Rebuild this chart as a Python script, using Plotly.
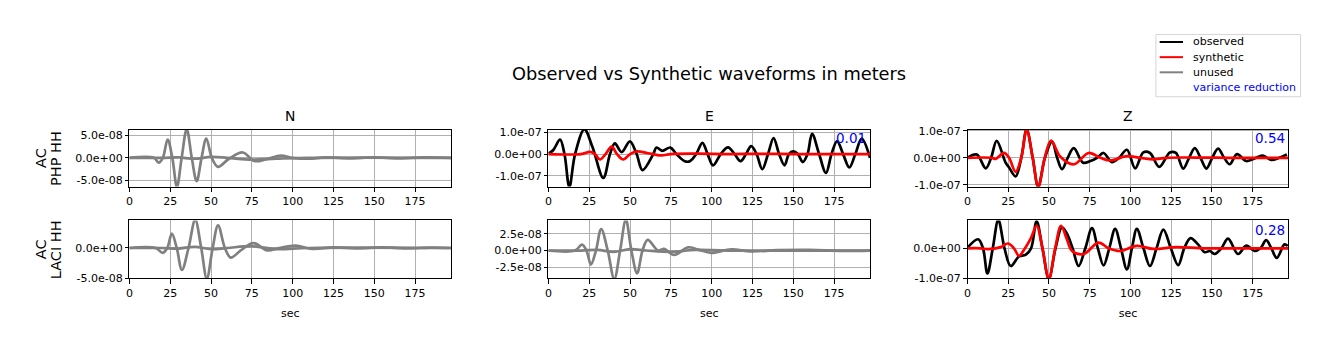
import plotly.graph_objects as go

W, H = 1329, 351

# ---------------- data (seconds, meters) ----------------
x_ticks = [0, 25, 50, 75, 100, 125, 150, 175]

# AC PHP HH - N (unused)
N1_t = [0, 15, 17.9, 20.5, 23.4, 26.3, 29.1, 32, 35.1, 38.2, 41.2, 44.2, 47.1, 50.5, 54.3, 61, 69.5, 76.4, 84, 92.7, 100, 110, 120, 135, 150, 165, 180, 197]
N1_obs = [0, 0, -1.07e-8, 0, 4.07e-8, 0, -6.5e-8, 0, 6.4e-8, 0, -5.2e-8, 0, 4.3e-8, 0, -2.0e-8, -0.2e-8, 1.2e-8, -0.7e-8, -0.3e-8, 0.5e-8, 0, -0.2e-8, 0.1e-8, -0.1e-8, 0.1e-8, -0.1e-8, 0.1e-8, 0]
N1_syn_t = [0, 20, 30, 40, 50, 60, 75, 90, 110, 197]
N1_syn = [0, 0, 0.1e-8, -0.2e-8, 0.2e-8, 0, -0.4e-8, -0.2e-8, 0, 0]

# AC PHP HH - E
E1_t = [0, 3, 7.1, 9.8, 12.8, 16.3, 22, 26.9, 33.6, 37.7, 40.7, 44.8, 49.9, 54, 57.6, 64.2, 66.2, 69.7, 74.7, 78.4, 83.5, 86.6, 90.5, 94.3, 97.5, 100.8, 105.5, 110, 114, 117.7, 121, 124.2, 127.5, 131, 134.5, 137.9, 141.3, 144.6, 147.3, 149.9, 152.8, 155.8, 158.7, 161.5, 165.8, 170, 173.4, 176.8, 180.5, 184.3, 188, 191.9, 197]
E1_obs = [0.02e-7, 0.19e-7, 0.67e-7, 0, -1.52e-7, 0, 1.14e-7, 0.34e-7, -1.1e-7, 0, 0.49e-7, 0.09e-7, 0.59e-7, 0, -0.74e-7, 0, 0.3e-7, 0.15e-7, 0.3e-7, 0, -0.33e-7, -0.33e-7, 0, 0.52e-7, 0, -0.52e-7, 0, 0.31e-7, 0, -0.33e-7, 0, 0.37e-7, 0, -0.7e-7, 0, 0.74e-7, 0, -0.52e-7, 0, 0.12e-7, 0, -0.37e-7, 0, 0.93e-7, 0, -0.87e-7, 0, 0.6e-7, 0, -0.62e-7, 0, 0.71e-7, -0.18e-7]
E1_syn_t = [0, 20, 25.5, 28.5, 31.6, 35, 38.7, 42, 45.8, 50, 54, 61, 69, 75, 90, 110, 130, 150, 170, 197]
E1_syn = [0, 0, 0.1e-7, 0, -0.25e-7, 0, 0.34e-7, 0, -0.25e-7, 0, 0.12e-7, 0.04e-7, -0.06e-7, 0, 0.02e-7, 0, 0.01e-7, 0, 0, 0]

# AC PHP HH - Z
Z1_t = [0, 5.7, 11.2, 14.5, 17.9, 23.4, 25.5, 29.5, 33, 36.3, 40, 43.4, 47.5, 51.9, 55, 58, 61.5, 65.2, 70.9, 75.4, 79.5, 83.5, 88.6, 93, 97.8, 102.9, 107.9, 112, 117.7, 124.2, 127.9, 132.4, 136, 139.5, 143, 146.6, 150.2, 153.8, 157.5, 160.9, 165.4, 171.1, 177.2, 181.3, 186.4, 191.4, 196]
Z1_obs = [0, 0.12e-7, -0.39e-7, 0, 0.63e-7, -0.18e-7, -0.36e-7, -0.69e-7, 0, 1.06e-7, 0, -1.08e-7, 0, 0.6e-7, 0, -0.42e-7, 0, 0.36e-7, -0.18e-7, -0.12e-7, 0, 0.18e-7, -0.16e-7, 0, 0.3e-7, -0.39e-7, 0.2e-7, 0.18e-7, -0.34e-7, 0.2e-7, 0.18e-7, -0.4e-7, 0, 0.36e-7, 0, -0.4e-7, 0, 0.34e-7, 0, -0.24e-7, 0.14e-7, -0.12e-7, 0, 0.08e-7, -0.08e-7, 0, 0.12e-7]
Z1_syn_t = [0, 15, 17.3, 22.4, 25.5, 29.5, 33, 36.3, 40, 43.4, 47.4, 51.3, 57, 65.2, 74.3, 81.5, 87.6, 97.8, 106, 114, 122, 140, 160, 180, 197]
Z1_syn = [0, 0, -0.04e-7, 0.18e-7, 0, -0.52e-7, 0, 1.04e-7, 0, -1.08e-7, 0, 0.64e-7, 0.04e-7, -0.24e-7, 0.18e-7, 0, -0.1e-7, 0.06e-7, 0, -0.06e-7, 0, 0.01e-7, 0, 0, 0]

# AC LACI HH - N (unused)
N2_t = [0, 16, 20.4, 23.2, 26, 29, 32.2, 36.2, 40.3, 44, 47.4, 51, 54.3, 58.5, 62.1, 68.2, 76, 84.5, 91.6, 101.8, 112, 125, 140, 155, 170, 185, 197]
N2_obs = [0, 0, -0.8e-8, 0, 2.4e-8, 0, -3.66e-8, 0, 4.7e-8, 0, -5.1e-8, 0, 3.76e-8, 0, -1.6e-8, -0.4e-8, 0.8e-8, -0.4e-8, 0, 0.4e-8, -0.15e-8, 0.1e-8, -0.05e-8, 0.1e-8, -0.05e-8, 0.05e-8, 0]
N2_syn_t = [0, 20, 30, 40, 50, 60, 75, 90, 110, 197]
N2_syn = [0, 0, -0.1e-8, 0.2e-8, -0.2e-8, 0, 0.3e-8, -0.2e-8, 0, 0]

# AC LACI HH - E (unused)
E2_t = [0, 16.3, 20.5, 23.3, 26, 29.1, 32.3, 36.3, 40.3, 43.9, 47.4, 50.8, 54.3, 57.6, 60.8, 67.2, 70.9, 77, 85.5, 91.6, 99.8, 112, 124, 140, 160, 180, 197]
E2_obs = [0, 0, 0.87e-8, 0, -2.1e-8, 0, 3.2e-8, 0, -4.25e-8, 0, 4.6e-8, 0, -3.4e-8, 0, 1.6e-8, 0, 0.24e-8, -0.67e-8, 0.48e-8, 0.14e-8, -0.34e-8, 0.19e-8, -0.14e-8, 0.05e-8, 0.1e-8, -0.05e-8, 0]
E2_syn_t = [0, 20, 30, 40, 50, 60, 75, 90, 110, 197]
E2_syn = [0, 0, 0.1e-8, -0.2e-8, 0.2e-8, 0, -0.2e-8, 0.1e-8, 0, 0]

# AC LACI HH - Z
Z2_t = [0, 6.5, 9.5, 12.2, 15.5, 18.9, 22.7, 26.5, 31.6, 35.6, 39, 42.4, 46, 49.9, 54, 58, 61.1, 64.5, 68.2, 72.3, 76.4, 80, 83.5, 87, 90.6, 94.2, 97.8, 100.9, 103.9, 108, 112, 116, 120.2, 124.8, 129.3, 133, 136.9, 141.5, 145.6, 148.7, 151.7, 155.8, 159.9, 166, 171.1, 176.2, 179.8, 183.3, 186.5, 189.8, 194.5, 196.5]
Z2_obs = [0.02e-7, 0.3e-7, 0, -0.84e-7, 0, 0.95e-7, 0, -0.59e-7, -0.27e-7, -0.22e-7, 0, 0.9e-7, 0, -1.02e-7, 0, 0.7e-7, 0.48e-7, 0, -0.59e-7, 0, 0.67e-7, 0, -0.57e-7, 0, 0.65e-7, 0, -0.7e-7, 0, 0.65e-7, 0, -0.59e-7, 0, 0.62e-7, 0, -0.56e-7, 0, 0.34e-7, 0.13e-7, -0.13e-7, -0.09e-7, -0.19e-7, 0, 0.32e-7, -0.19e-7, 0.09e-7, -0.09e-7, 0, 0.27e-7, 0, -0.32e-7, 0.13e-7, 0.08e-7]
Z2_syn_t = [0, 8, 12.6, 20.4, 24.8, 28.5, 31.6, 35, 39, 42.4, 46, 49.9, 53.8, 57.4, 61, 64.2, 71.3, 80.4, 86.6, 93.7, 103.9, 114, 128, 145, 165, 197]
Z2_syn = [0, 0, -0.03e-7, 0.04e-7, 0.16e-7, 0, -0.25e-7, -0.02e-7, 0.35e-7, 0.75e-7, 0, -1.02e-7, 0, 0.75e-7, 0.3e-7, -0.09e-7, -0.19e-7, 0.19e-7, 0, -0.09e-7, 0.08e-7, -0.02e-7, 0.04e-7, 0, 0, 0]

# axis limits and tick labels
y_ranges = [[-6.4e-8, 6.3e-8], [-1.5e-7, 1.13e-7], [-1.07e-7, 1.05e-7],
            [-5.05e-8, 4.6e-8], [-4.15e-8, 4.5e-8], [-1.0e-7, 0.93e-7]]
y_tickvals = [[-5e-8, 0, 5e-8], [-1e-7, 0, 1e-7], [-1e-7, 0, 1e-7],
              [-5e-8, 0], [-2.5e-8, 0, 2.5e-8], [-1e-7, 0]]
y_ticktext = [["-5.0e-08", "0.0e+00", "5.0e-08"], ["-1.0e-07", "0.0e+00", "1.0e-07"],
              ["-1.0e-07", "0.0e+00", "1.0e-07"], ["-5.0e-08", "0.0e+00"],
              ["-2.5e-08", "0.0e+00", "2.5e-08"], ["-1.0e-07", "0.0e+00"]]
components = ["N", "E", "Z"]
networks = ["AC", "AC"]
stations = ["PHP HH", "LACI HH"]
variance_reduction = [None, "0.01", "0.54", None, None, "0.28"]
legend_labels = ["observed", "synthetic", "unused", "variance reduction"]

BLACK, RED, GREY, BLUE = "#000000", "#ff0000", "#808080", "#0000ff"
legend_colors = [BLACK, RED, GREY, None]
panels = [
    [(N1_t, N1_obs, GREY), (N1_syn_t, N1_syn, GREY)],
    [(E1_t, E1_obs, BLACK), (E1_syn_t, E1_syn, RED)],
    [(Z1_t, Z1_obs, BLACK), (Z1_syn_t, Z1_syn, RED)],
    [(N2_t, N2_obs, GREY), (N2_syn_t, N2_syn, GREY)],
    [(E2_t, E2_obs, GREY), (E2_syn_t, E2_syn, GREY)],
    [(Z2_t, Z2_obs, BLACK), (Z2_syn_t, Z2_syn, RED)],
]
trace_names = {BLACK: "observed", RED: "synthetic", GREY: "unused"}

# ---------------- layout geometry (pixels) ----------------
cols_px = [(126.7, 449.0), (546.7, 869.0), (966.7, 1288.4)]
rows_px = [(129.0, 188.0), (223.0, 283.0)]


def fx(p):
    return p / W


def fy(p):
    return 1 - p / H


FONT = "DejaVu Sans"
fig = go.Figure()

layout = dict(
    width=W, height=H, autosize=False,
    margin=dict(l=0, r=0, t=0, b=0, pad=0),
    paper_bgcolor="white", plot_bgcolor="white",
    font=dict(family=FONT, size=11, color="black"),
    showlegend=False,
)
annotations = []
shapes = []

for i in range(6):
    r, c = divmod(i, 3)
    suf = "" if i == 0 else str(i + 1)
    x0, x1 = cols_px[c]
    y0, y1 = rows_px[r]
    layout["xaxis" + suf] = dict(
        domain=[fx(x0), fx(x1)], anchor="y" + suf, range=[0, 197],
        tickvals=x_ticks, ticktext=[str(v) for v in x_ticks],
        showline=True, mirror=True, linecolor="black", linewidth=1,
        ticks="outside", ticklen=4.5, tickwidth=1, tickcolor="black",
        showgrid=True, gridcolor="#b0b0b0", gridwidth=0.8, zeroline=False,
        tickfont=dict(family=FONT, size=11, color="black"),
        title=dict(text="sec" if r == 1 else "", font=dict(family=FONT, size=11, color="black"), standoff=10),
    )
    layout["yaxis" + suf] = dict(
        domain=[fy(y1), fy(y0)], anchor="x" + suf, range=y_ranges[i],
        tickvals=y_tickvals[i], ticktext=y_ticktext[i],
        showline=True, mirror=True, linecolor="black", linewidth=1,
        ticks="outside", ticklen=3.5, tickwidth=1, tickcolor="black",
        showgrid=True, gridcolor="#b0b0b0", gridwidth=0.8, zeroline=False,
        tickfont=dict(family=FONT, size=11, color="black"),
    )
    for t, v, col in panels[i]:
        fig.add_trace(go.Scatter(
            x=t, y=v, mode="lines", line=dict(color=col, width=2.7, shape="spline", smoothing=1.0),
            name=trace_names[col], showlegend=False, hoverinfo="skip",
            xaxis="x" + suf, yaxis="y" + suf,
        ))
    if variance_reduction[i]:
        annotations.append(dict(
            text=variance_reduction[i], xref=f"x{suf} domain", yref=f"y{suf} domain",
            x=0.889, y=0.85 if r == 0 else 0.83, xanchor="left", yanchor="middle",
            showarrow=False, font=dict(family=FONT, size=13.5, color=BLUE),
        ))
    if r == 0:
        annotations.append(dict(
            text=components[c], xref="paper", yref="paper",
            x=fx((x0 + x1) / 2), y=fy(115), xanchor="center", yanchor="middle",
            showarrow=False, font=dict(family=FONT, size=13.9, color="black"),
        ))
    if c == 0:
        for txt, xp in ((networks[r], 38), (stations[r], 53)):
            annotations.append(dict(
                text=txt, xref="paper", yref="paper",
                x=fx(xp), y=fy((y0 + y1) / 2), xanchor="center", yanchor="middle",
                textangle=-90, showarrow=False,
                font=dict(family=FONT, size=14.5, color="black"),
            ))

annotations.append(dict(
    text="Observed vs Synthetic waveforms in meters", xref="paper", yref="paper",
    x=fx((cols_px[0][0] + cols_px[2][1]) / 2), y=fy(70.5), xanchor="center", yanchor="middle",
    showarrow=False, font=dict(family=FONT, size=17.8, color="black"),
))

# ---------------- legend box (figure decoration) ----------------
LEG_BOX = (1155.5, 30.5, 1300.5, 95.0)
LEG_ROW_Y = [38.3, 54.0, 69.7, 85.4]
LEG_LINE_X = (1159.3, 1182.7)
LEG_TEXT_X = 1191.0
shapes.append(dict(type="rect", xref="paper", yref="paper",
                   x0=fx(LEG_BOX[0]), x1=fx(LEG_BOX[2]), y0=fy(LEG_BOX[3]), y1=fy(LEG_BOX[1]),
                   line=dict(color="#d6d6d6", width=1), fillcolor="rgba(255,255,255,0.8)", layer="above"))
for lab, col, yy in zip(legend_labels, legend_colors, LEG_ROW_Y):
    if col is not None:
        shapes.append(dict(type="line", xref="paper", yref="paper",
                           x0=fx(LEG_LINE_X[0]), x1=fx(LEG_LINE_X[1]), y0=fy(yy), y1=fy(yy),
                           line=dict(color=col, width=2), layer="above"))
    annotations.append(dict(
        text=lab, xref="paper", yref="paper", x=fx(LEG_TEXT_X), y=fy(yy),
        xanchor="left", yanchor="middle", showarrow=False,
        font=dict(family=FONT, size=11, color=BLUE if col is None else "black"),
    ))

layout["annotations"] = annotations
layout["shapes"] = shapes
fig.update_layout(**layout)
fig.write_html("out.html")
